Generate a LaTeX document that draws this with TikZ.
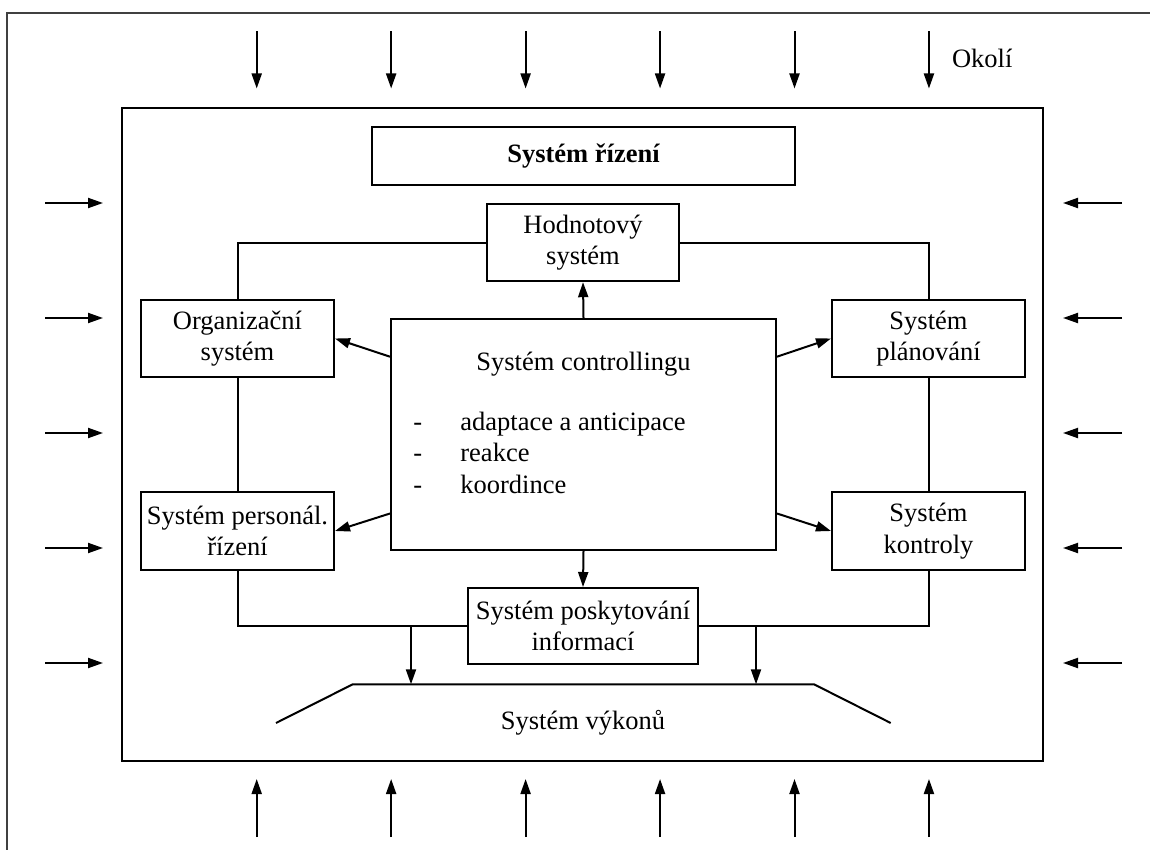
\documentclass[tikz,border=0pt]{standalone}
\usepackage{fontspec}
\setmainfont{Liberation Serif}
\usetikzlibrary{arrows.meta,calc}

\newcommand{\diagfont}{\fontsize{13.25pt}{15.65pt}\selectfont}

\tikzset{
  box/.style={draw, line width=1pt, inner sep=0pt, align=center, font=\diagfont},
  link/.style={line width=1pt},
  arr/.style={line width=1pt, -{Triangle[length=7.5pt,width=5pt]}},
  label/.style={inner sep=0pt, font=\diagfont},
  outerline/.style={line width=0.8pt, draw=black!75}
}

\begin{document}
\begin{tikzpicture}[x=0.5pt, y=-0.5pt]
  \useasboundingbox (0,0) rectangle (1150,850);

  % page frame (only top and left edges lie inside the sheet)
  \draw[outerline] (7,850) -- (7,13) -- (1150,13);

  % the enterprise as a whole
  \node[draw, line width=1pt, minimum width=460.5pt, minimum height=326.5pt, inner sep=0pt] (frame) at (582.5,434.5) {};

  % influences of the environment
  \foreach \i in {0,...,5} {
    \pgfmathsetmacro{\xx}{256.7+134.45*\i}
    \coordinate (top\i) at (\xx,31.5);
    \coordinate (topend\i) at (\xx,88.5);
    \draw[arr] (top\i) -- (topend\i);
    \coordinate (bot\i) at (\xx,837);
    \coordinate (botend\i) at (\xx,779);
    \draw[arr] (bot\i) -- (botend\i);
  }
  \foreach \i in {0,...,4} {
    \pgfmathsetmacro{\yy}{203+115*\i}
    \coordinate (lft\i) at (45,\yy);
    \coordinate (lftend\i) at (103,\yy);
    \draw[arr] (lft\i) -- (lftend\i);
    \coordinate (rgt\i) at (1122,\yy);
    \coordinate (rgtend\i) at (1063,\yy);
    \draw[arr] (rgt\i) -- (rgtend\i);
  }
  \node[label, anchor=base west] (okoli) at (951.7,68) {Okolí};

  % subsystems
  \node[box, minimum width=211.5pt, minimum height=29pt, font=\diagfont\bfseries] (rizeni) at (583.5,156) {Systém řízení};
  \node[box, minimum width=96pt, minimum height=38.5pt] (hod) at (583,242.7) {Hodnotový\\systém};
  \node[box, minimum width=96.5pt, minimum height=38.5pt] (org) at (237.5,338.5) {Organizační\\systém};
  \node[box, minimum width=96.5pt, minimum height=38.5pt] (plan) at (928.5,338.5) {Systém\\plánování};
  \node[box, minimum width=96.5pt, minimum height=39pt] (pers) at (237.5,531) {Systém personál.\\řízení};
  \node[box, minimum width=96.5pt, minimum height=39pt] (kontr) at (928.5,531) {Systém\\kontroly};
  \node[box, minimum width=115pt, minimum height=38pt] (info) at (583,626) {Systém poskytování\\informací};

  % controlling in the middle
  \node[box, minimum width=192.5pt, minimum height=115.5pt] (ctrl) at (583.5,434.5) {};
  \node[label, anchor=base] (ctitle) at (583.5,370) {Systém controllingu};
  \node[label, anchor=base west] (d1) at (413,430) {-};
  \node[label, anchor=base west] (d2) at (413,461.5) {-};
  \node[label, anchor=base west] (d3) at (413,493) {-};
  \node[label, anchor=base west] (t1) at (460,430) {adaptace a anticipace};
  \node[label, anchor=base west] (t2) at (460,461.5) {reakce};
  \node[label, anchor=base west] (t3) at (460,493) {koordince};

  % ring of links between the subsystems
  \draw[link] (hod.west) -| (org.north);
  \draw[link] (hod.east) -| (plan.north);
  \draw[link] (org.south) -- (pers.north);
  \draw[link] (plan.south) -- (kontr.north);
  \draw[link] (pers.south) |- (info.west);
  \draw[link] (kontr.south) |- (info.east);

  % controlling feeds every subsystem
  \draw[arr] (ctrl.north) -- (hod.south);
  \draw[arr] (ctrl.south) -- (info.north);
  \draw[arr] ($(ctrl.north west)+(0,38.7)$) -- (org.east);
  \draw[arr] ($(ctrl.north east)+(0,38.7)$) -- (plan.east -| plan.west);
  \draw[arr] ($(ctrl.south west)+(0,-37.5)$) -- (pers.east);
  \draw[arr] ($(ctrl.south east)+(0,-37.5)$) -- (kontr.west);

  % performance system
  \coordinate (tl) at (352.7,684.3);
  \coordinate (tr) at (814,684.3);
  \coordinate (bl) at (276,723);
  \coordinate (br) at (890.7,723);
  \draw[link] (bl) -- (tl) -- (tr) -- (br);
  \node[label, anchor=base] (vykon) at (583,729) {Systém výkonů};

  \coordinate (jl) at (411,626.7);
  \coordinate (jr) at (756,626.7);
  \draw[arr] (jl) -- (jl |- tl);
  \draw[arr] (jr) -- (jr |- tr);
\end{tikzpicture}
\end{document}
